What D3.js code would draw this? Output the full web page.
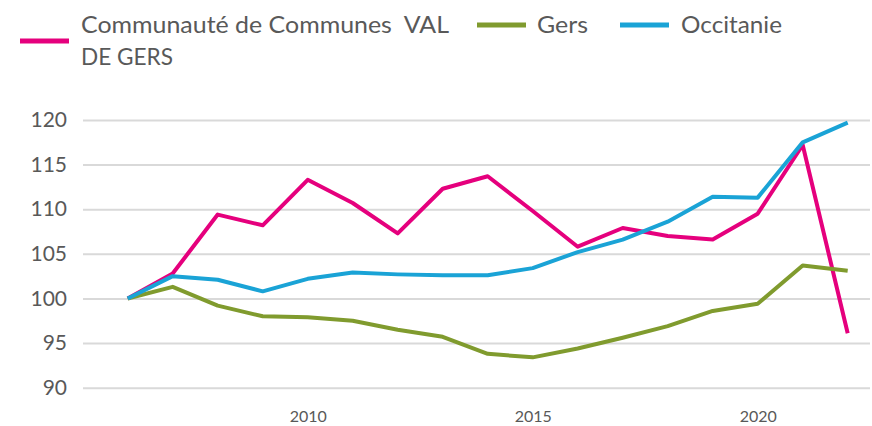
<!DOCTYPE html>
<html>
<head>
<meta charset="utf-8">
<script src="https://cdn.jsdelivr.net/npm/d3@7"></script>
<style>
  html, body { margin: 0; padding: 0; background: #fff; }
  svg { display: block; font-family: Lato, "Open Sans", sans-serif; }
</style>
</head>
<body>
<svg id="chart" width="872" height="426"></svg>
<script>
(function () {
  'use strict';

  // ── Data ────────────────────────────────────────────────────────────────
  const years = [2006, 2007, 2008, 2009, 2010, 2011, 2012, 2013, 2014,
                 2015, 2016, 2017, 2018, 2019, 2020, 2021, 2022];
  const valDeGers = [100, 102.8, 109.4, 108.2, 113.3, 110.7, 107.3, 112.3, 113.7,
                     109.8, 105.8, 107.9, 107.0, 106.6, 109.5, 117.2, 96.1];
  const gers = [100, 101.3, 99.2, 98.0, 97.9, 97.5, 96.5, 95.7, 93.8,
                93.4, 94.4, 95.6, 96.9, 98.6, 99.4, 103.7, 103.1];
  const occitanie = [100, 102.5, 102.1, 100.8, 102.2, 102.9, 102.7, 102.6, 102.6,
                     103.4, 105.2, 106.6, 108.6, 111.4, 111.3, 117.5, 119.7];
  const yTicks = [90, 95, 100, 105, 110, 115, 120];
  const xTicks = [2010, 2015, 2020];

  const series = [
    { lines: ['Communauté de Communes  VAL', 'DE GERS'], values: valDeGers, color: '#e5007d' },
    { lines: ['Gers'], values: gers, color: '#809b2e' },
    { lines: ['Occitanie'], values: occitanie, color: '#1aa3d6' }
  ];

  const svg = d3.select('#chart');
  const x = d3.scaleLinear().domain([2006, 2022]).range([127.7, 847.7]);
  const y = d3.scaleLinear().domain([90, 120]).range([387.7, 120]);

  // ── Grid + y labels ─────────────────────────────────────────────────────
  svg.append('g')
    .attr('transform', 'translate(83,0)')
    .call(d3.axisLeft(y).tickValues(yTicks).tickSize(-787).tickPadding(16))
    .call(ax => ax.select('.domain').remove())
    .call(ax => ax.selectAll('.tick line').attr('stroke', '#d9d9d9').attr('stroke-width', 2))
    .call(ax => ax.selectAll('.tick text')
      .attr('fill', '#595959').attr('font-size', 21).attr('font-family', 'Lato, sans-serif'));

  // ── x labels ────────────────────────────────────────────────────────────
  svg.append('g')
    .attr('transform', 'translate(0,408)')
    .call(d3.axisBottom(x).tickValues(xTicks).tickFormat(d3.format('d')).tickSize(0).tickPadding(3))
    .call(ax => ax.select('.domain').remove())
    .call(ax => ax.selectAll('.tick text')
      .attr('fill', '#595959').attr('font-size', 16).attr('font-family', 'Lato, sans-serif'));

  // ── Lines ───────────────────────────────────────────────────────────────
  const line = d3.line().x((d, i) => x(years[i])).y(d => y(d));
  series.forEach(s => {
    svg.append('path')
      .datum(s.values)
      .attr('d', line)
      .attr('fill', 'none')
      .attr('stroke', s.color)
      .attr('stroke-width', 4)
      .attr('stroke-linejoin', 'round');
  });

  // ── Legend ──────────────────────────────────────────────────────────────
  const legendPos = [
    { sx: 20, sy: 41, tx: 81, widths: [368, 92] },
    { sx: 477, sy: 25, tx: 537, widths: [51] },
    { sx: 620, sy: 25, tx: 681, widths: [101] }
  ];
  series.forEach((s, i) => {
    const p = legendPos[i];
    svg.append('line')
      .attr('x1', p.sx).attr('x2', p.sx + 49)
      .attr('y1', p.sy).attr('y2', p.sy)
      .attr('stroke', s.color).attr('stroke-width', 5);
    s.lines.forEach((part, j) => {
      svg.append('text')
        .attr('x', p.tx).attr('y', 33 + j * 32)
        .attr('fill', '#595959').attr('font-size', 23)
        .attr('xml:space', 'preserve')
        .attr('textLength', p.widths[j])
        .attr('lengthAdjust', 'spacingAndGlyphs')
        .text(part);
    });
  });
})();
</script>
</body>
</html>
